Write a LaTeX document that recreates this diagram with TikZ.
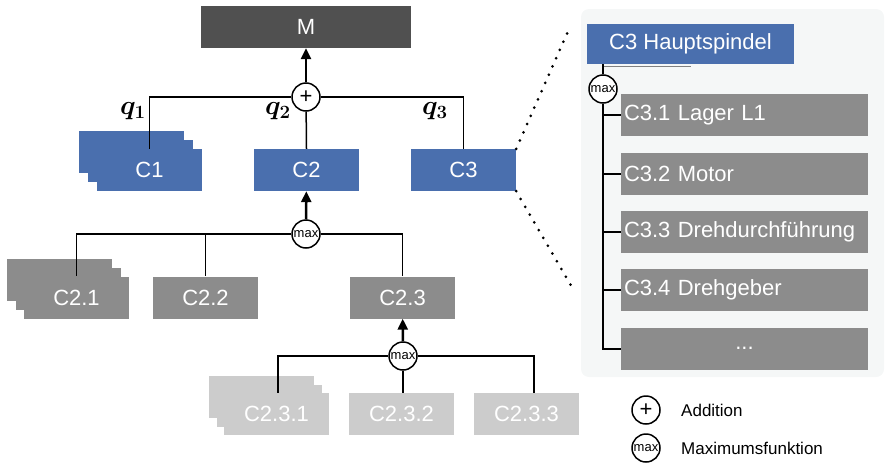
\RequirePackage{fix-cm}
\documentclass[tikz,border=0pt]{standalone}
\usepackage[no-math]{fontspec}
\setmainfont{Liberation Sans}
\usetikzlibrary{arrows.meta}
\definecolor{cblue}{HTML}{4A6FAE}
\definecolor{cdark}{HTML}{505050}
\definecolor{cgray}{HTML}{8C8C8C}
\definecolor{clight}{HTML}{CCCCCC}
\definecolor{cpanel}{HTML}{F5F7F7}
\newcommand{\qlabtext}[1]{\scalebox{1.3}{$q_{#1}$}}
\begin{document}
\begin{tikzpicture}[x=1pt,y=-1pt,
  box/.style={rectangle, inner sep=0pt, minimum width=105pt, minimum height=42pt, text=white, font=\fontsize{22}{26}\selectfont},
  bluebox/.style={box, fill=cblue},
  graybox/.style={box, fill=cgray},
  lightbox/.style={box, fill=clight},
  childbox/.style={rectangle, fill=cgray, text=white, inner xsep=3pt, inner ysep=0pt, text width=241pt, minimum height=42pt, align=left, font=\fontsize{22}{26}\selectfont},
  conn/.style={line width=1.5pt, black},
  arr/.style={line width=2.5pt, black, -{Triangle[width=10pt,length=11pt]}},
  opc/.style={circle, draw, line width=1.5pt, fill=white, minimum size=28pt, inner sep=0pt, text=black},
  maxc/.style={opc, font=\fontsize{13}{13}\selectfont},
  pluc/.style={opc, font=\fontsize{22}{22}\selectfont},
  qlab/.style={font=\huge\boldmath, inner sep=0pt},
  legtext/.style={anchor=west, inner sep=0pt, font=\fontsize{17}{20}\selectfont},
  dotline/.style={line width=3pt, line cap=round, dash pattern=on 0pt off 9pt}
]
\useasboundingbox (0,0) rectangle (885,463);

% right panel background
\fill[cpanel, rounded corners=8pt] (581,9) rectangle (884,377);

% top level
\node[box, fill=cdark, minimum width=210pt] (m) at (306,27) {M};
\node[pluc] (plus) at (306,97) {+};

\node[bluebox] (c1c) at (131.5,152) {};
\node[bluebox] (c1b) at (140.5,161) {};
\node[bluebox] (c1) at (149.5,170) {C1};
\node[bluebox] (c2) at (306.5,170) {C2};
\node[bluebox] (c3) at (463.5,170) {C3};

\draw[conn] (plus) -| (c1.north);
\draw[conn] (plus) -- (c2.north);
\draw[conn] (plus) -| (c3.north);
\draw[arr] (plus) -- (m);

\node[qlab] (q1) at (133,111) {\qlabtext{1}};
\node[qlab] (q2) at (278,111) {\qlabtext{2}};
\node[qlab] (q3) at (435,111) {\qlabtext{3}};

% second level
\node[maxc] (max1) at (306,234) {max};
\node[graybox] (c21c) at (59.5,279.5) {};
\node[graybox] (c21b) at (68.5,288.5) {};
\node[graybox] (c21) at (76.5,297.5) {C2.1};
\node[graybox] (c22) at (205.5,297.5) {C2.2};
\node[graybox] (c23) at (402.5,297.5) {C2.3};

\draw[conn] (max1) -| (c21.north);
\draw[conn] (max1) -| (c22.north);
\draw[conn] (max1) -| (c23.north);
\draw[arr] (max1) -- (c2);

% third level
\node[maxc] (max2) at (403,356) {max};
\node[lightbox] (c231c) at (261.5,397) {};
\node[lightbox] (c231b) at (269.5,405.5) {};
\node[lightbox] (c231) at (276.5,414) {C2.3.1};
\node[lightbox] (c232) at (401.5,414) {C2.3.2};
\node[lightbox] (c233) at (526.5,414) {C2.3.3};

\draw[conn] (max2) -| ([xshift=1.5pt]c231.north);
\draw[conn] (max2) -- (max2 |- c232.north);
\draw[conn] (max2) -| ([xshift=7.5pt]c233.north);
\draw[arr] (max2) -- (c23);

% zoom dotted lines
\coordinate (z1) at (569,29);
\coordinate (z2) at (573,289);
\draw[dotline] (c3.north east) -- (z1);
\draw[dotline] (c3.south east) -- (z2);

% detail of C3
\node[bluebox, minimum width=207pt, minimum height=40pt] (hs) at (690.5,44) {C3 Hauptspindel};
\draw[gray, line width=0.8pt] ([xshift=16pt,yshift=-2pt]hs.south west) -- ++(88,0);

\node[childbox] (k1) at (744.5,115) {C3.1 Lager L1};
\node[childbox] (k2) at (744.5,174) {C3.2 Motor};
\node[childbox] (k3) at (744.5,232) {C3.3 Drehdurchführung};
\node[childbox] (k4) at (744.5,290) {C3.4 Drehgeber};
\node[childbox, align=center] (k5) at (744.5,348.5) {...};

\node[maxc] (max3) at (603,89) {max};
\draw[line width=2pt] (max3) -- (max3 |- hs.south);
\draw[line width=2pt] (max3.south) -- (max3.south |- k5.west) -- (k5.west);
\foreach \k in {k1,k2,k3,k4}{
  \draw[line width=1.5pt] (max3.south |- \k.west) -- (\k.west);
}

% legend
\node[pluc] (lp) at (646,410) {+};
\node[legtext] (lpt) at (681,410) {Addition};
\node[maxc] (lm) at (646,448) {max};
\node[legtext] (lmt) at (681,448) {Maximumsfunktion};
\end{tikzpicture}
\end{document}
